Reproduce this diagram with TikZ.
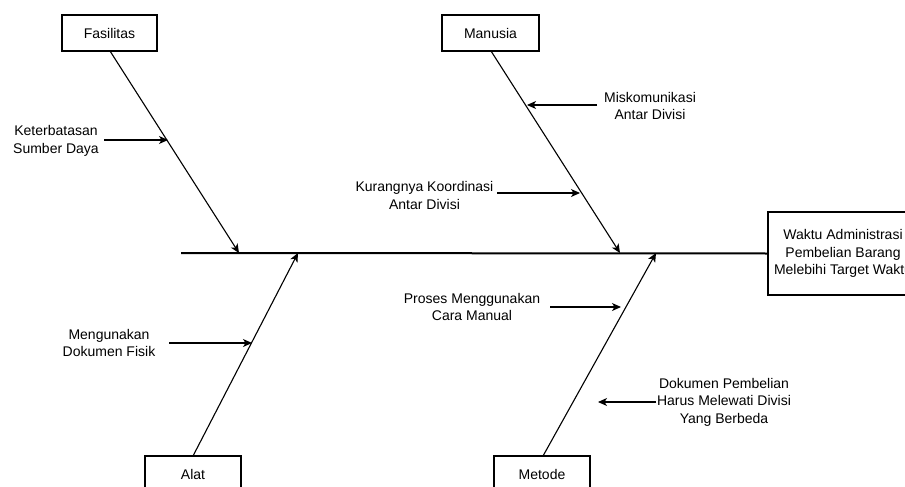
\documentclass[tikz,border=0pt]{standalone}
\usepackage{fontspec}
\setmainfont{Liberation Sans}
\usetikzlibrary{arrows.meta}
\begin{document}
\begin{tikzpicture}[x=1pt,y=-1pt,
  box/.style={draw,line width=1.1pt,minimum height=36pt,inner sep=0pt,font=\fontsize{14}{17}\selectfont},
  lbl/.style={align=center,inner sep=0pt,font=\fontsize{14}{17.5}\selectfont},
  bone/.style={line width=1.1pt,-{Stealth[length=9pt,width=8pt,inset=2.5pt]}},
  sub/.style={line width=1.1pt,-{Stealth[length=9pt,width=8pt,inset=2.5pt]}},
  spine/.style={line width=2pt}]
\useasboundingbox (0,0) rectangle (905,487);
% boxes
\node[box,minimum width=95pt] (fas) at (109.5,33) {Fasilitas};
\node[box,minimum width=97pt] (man) at (490.5,33) {Manusia};
\node[box,minimum width=96pt] (alat) at (193,474) {Alat};
\node[box,minimum width=96pt] (met) at (542,474) {Metode};
\node[box,minimum width=150pt,minimum height=83pt,align=center,font=\fontsize{14}{17.5}\selectfont] (eff) at (843,253.5) {Waktu Administrasi\\Pembelian Barang\\Melebihi Target Waktu};
% spine
\coordinate (s0) at (181,253);
\draw[spine] (s0) -- (eff.west);
% bone ends
\coordinate (fe) at (239,253);
\coordinate (me) at (620,253);
\coordinate (ae) at (298,253);
\coordinate (te) at (656,253);
\coordinate (fs) at (110,51);
\coordinate (ms) at (491,51);
\coordinate (as) at (193,456);
\coordinate (ts) at (543,456);
\draw[bone] (fs) -- (fe);
\draw[bone] (ms) -- (me);
\draw[bone] (as) -- (ae);
\draw[bone] (ts) -- (te);
% labels
\node[lbl] (k1) at (56,141) {Keterbatasan\\Sumber Daya};
\node[lbl] (k2) at (650,106) {Miskomunikasi\\Antar Divisi};
\node[lbl] (k3) at (424.5,195.5) {Kurangnya Koordinasi\\Antar Divisi};
\node[lbl] (k4) at (109,343) {Mengunakan\\Dokumen Fisik};
\node[lbl] (k5) at (472,307) {Proses Menggunakan\\Cara Manual};
\node[lbl] (k6) at (724,402) {Dokumen Pembelian\\Harus Melewati Divisi\\Yang Berbeda};
% sub arrows
\coordinate (t1) at (168,140);
\coordinate (t2) at (527,105);
\coordinate (t3) at (580,193);
\coordinate (t4) at (252,343);
\coordinate (t5) at (621,307);
\coordinate (t6) at (598,402);
\draw[sub] (104,140) -- (t1);
\draw[sub] (597,105) -- (t2);
\draw[sub] (497,193) -- (t3);
\draw[sub] (169,343) -- (t4);
\draw[sub] (550,307) -- (t5);
\draw[sub] (656,402) -- (t6);
\end{tikzpicture}
\end{document}
